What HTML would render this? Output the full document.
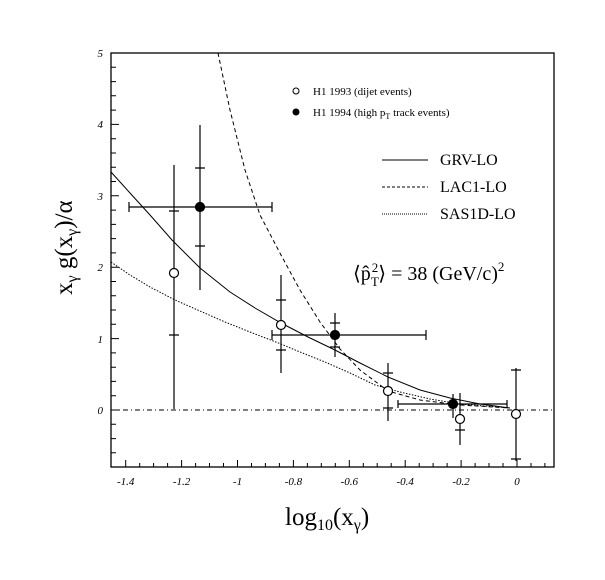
<!DOCTYPE html>
<html><head><meta charset="utf-8"><style>
html,body{margin:0;padding:0;background:#fff;}
svg{display:block;}
text{font-family:"Liberation Serif",serif;fill:#000;}
.t{font-style:italic;font-size:11px;}
</style></head><body>
<svg width="605" height="580" viewBox="0 0 605 580" xmlns="http://www.w3.org/2000/svg">
<rect x="111" y="53" width="443" height="414" fill="none" stroke="#000" stroke-width="1.3"/>
<g stroke="#000" stroke-width="1">
<path d="M125.7 467v-7M181.6 467v-7M237.5 467v-7M293.4 467v-7M349.3 467v-7M405.2 467v-7M461.1 467v-7M517 467v-7
M139.7 467v-4M153.6 467v-4M167.6 467v-4M195.6 467v-4M209.5 467v-4M223.5 467v-4M251.5 467v-4M265.4 467v-4M279.4 467v-4M307.4 467v-4M321.3 467v-4M335.3 467v-4M363.3 467v-4M377.2 467v-4M391.2 467v-4M419.2 467v-4M433.1 467v-4M447.1 467v-4M475.1 467v-4M489 467v-4M503 467v-4M531 467v-4M544.9 467v-4"/>
<path d="M111 53h8M111 124.4h8M111 195.8h8M111 267.2h8M111 338.6h8M111 410h8
M111 67.3h5M111 81.6h5M111 95.8h5M111 110.1h5M111 138.7h5M111 153h5M111 167.2h5M111 181.5h5M111 210.1h5M111 224.4h5M111 238.6h5M111 252.9h5M111 281.5h5M111 295.8h5M111 310h5M111 324.3h5M111 352.9h5M111 367.2h5M111 381.4h5M111 395.7h5M111 424.3h5M111 438.6h5M111 452.8h5"/>
</g>
<g class="t" text-anchor="middle">
<text x="125.7" y="485">-1.4</text><text x="181.6" y="485">-1.2</text><text x="237.5" y="485">-1</text><text x="293.4" y="485">-0.8</text><text x="349.3" y="485">-0.6</text><text x="405.2" y="485">-0.4</text><text x="461.1" y="485">-0.2</text><text x="517" y="485">0</text>
</g>
<g class="t" text-anchor="end">
<text x="103" y="57">5</text><text x="103" y="128">4</text><text x="103" y="200">3</text><text x="103" y="271">2</text><text x="103" y="343">1</text><text x="103" y="414">0</text>
</g>
<line x1="111" y1="410" x2="554" y2="410" stroke="#000" stroke-width="1" stroke-dasharray="5,3,1,3"/>
<polyline fill="none" stroke="#000" stroke-width="1" points="111,172 130,193 150,215 172,240 200,268 230,292 255,308 281,323 308,337 335,350 360,363 388,377 420,390 450,398 480,404 510,408"/>
<polyline fill="none" stroke="#000" stroke-width="1" stroke-dasharray="4,3" points="218,53 230,110 245,170 260,215 281,255 300,290 320,322 340,349 360,370 388,391 420,400 460,405 510,408"/>
<polyline fill="none" stroke="#000" stroke-width="1" stroke-dasharray="1.5,1.5" points="111,262 130,275 150,287 175,300 200,311 225,322 250,332 281,344 300,352 325,362 350,373 375,385 400,392 430,399 460,404 510,408"/>
<g stroke="#000" stroke-width="1.2" fill="none">
<path d="M174 165V409M169 211h10M169 335h10"/>
<path d="M200 125V290M129 207H272M129 202v10M272 202v10M195 168h10M195 246h10"/>
<path d="M281 275V373M276 300h10M276 350h10"/>
<path d="M335 313V357M272 335H426M272 330v10M426 330v10M330 323h10M330 347h10"/>
<path d="M388 363V421M383 373h10M383 408h10"/>
<path d="M453 394V418M398 404H507M398 400v8M507 400v8"/>
<path d="M460 393V445M455 430h10"/>
<path d="M516 368V461M511 370h10M511 459h10"/>
</g>
<g stroke="#000" stroke-width="1.2">
<circle cx="174" cy="273" r="4.5" fill="#fff"/>
<circle cx="200" cy="207" r="4.5" fill="#000"/>
<circle cx="281" cy="325" r="4.5" fill="#fff"/>
<circle cx="335" cy="335" r="4.5" fill="#000"/>
<circle cx="388" cy="391" r="4.5" fill="#fff"/>
<circle cx="453" cy="404" r="4.5" fill="#000"/>
<circle cx="460" cy="419" r="4.5" fill="#fff"/>
<circle cx="516" cy="414" r="4.5" fill="#fff"/>
</g>
<circle cx="296" cy="91" r="3" fill="#fff" stroke="#000"/>
<circle cx="296" cy="112" r="3.5" fill="#000"/>
<text x="313" y="95" font-size="11">H1 1993 (dijet events)</text>
<text x="313" y="116" font-size="11">H1 1994 (high p<tspan font-size="8" dy="3">T</tspan><tspan dy="-3"> track events)</tspan></text>
<line x1="382" y1="160" x2="428" y2="160" stroke="#000"/>
<line x1="382" y1="187" x2="428" y2="187" stroke="#000" stroke-dasharray="3,2"/>
<line x1="382" y1="214" x2="428" y2="214" stroke="#000" stroke-dasharray="1,1"/>
<text x="440" y="165" font-size="16">GRV-LO</text>
<text x="440" y="192" font-size="16">LAC1-LO</text>
<text x="440" y="219" font-size="16">SAS1D-LO</text>
<text x="353" y="280" font-size="20">⟨p̂<tspan font-size="13" dy="6">T</tspan><tspan font-size="13" dx="-7" dy="-14">2</tspan><tspan dy="8">⟩ = 38 (GeV/c)</tspan><tspan font-size="13" dy="-9">2</tspan></text>
<text x="285" y="525" font-size="25">log<tspan font-size="16" dy="5">10</tspan><tspan dy="-5">(x</tspan><tspan font-size="16" dy="5">γ</tspan><tspan dy="-5">)</tspan></text>
<text transform="translate(72,295) rotate(-90)" font-size="25">x<tspan font-size="16" dy="5">γ</tspan><tspan dy="-5"> g(x</tspan><tspan font-size="16" dy="5">γ</tspan><tspan dy="-5">)/α</tspan></text>
</svg>
</body></html>
